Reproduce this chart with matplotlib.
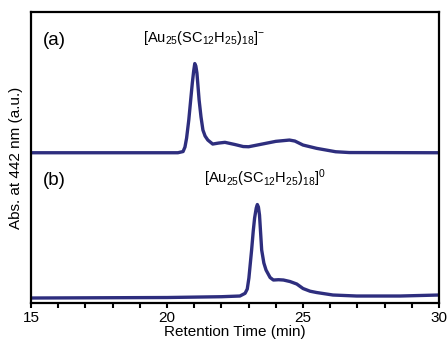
import matplotlib
matplotlib.use("Agg")
import matplotlib.pyplot as plt

plt.rcParams['font.family'] = ['Liberation Sans', 'DejaVu Sans']
plt.rcParams['mathtext.fontset'] = 'custom'
plt.rcParams['mathtext.rm'] = 'Liberation Sans'
plt.rcParams['mathtext.it'] = 'Liberation Sans:italic'
plt.rcParams['mathtext.bf'] = 'Liberation Sans:bold'

# Trace (a): [Au25(SC12H25)18]-
time_a = [15.0, 20.4, 20.59, 20.66, 20.72, 20.8, 20.87, 20.93, 20.98, 21.02, 21.06, 21.10,
          21.18, 21.25, 21.32, 21.4, 21.5, 21.68, 21.9, 22.13, 22.5, 22.8, 23.0, 23.5,
          24.0, 24.5, 24.7, 25.0, 25.5, 26.2, 26.7, 30.0]
abs_a = [150.3, 150.3, 151.5, 156, 165, 183, 203, 220, 232, 239.5, 237, 230,
         203, 186, 173, 167, 163, 159, 160, 160.7, 158.5, 156.5, 156.3, 159,
         161.7, 163, 162, 158, 154.7, 151.3, 150.5, 150.3]

# Trace (b): [Au25(SC12H25)18]0
time_b = [15.0, 18.0, 20.0, 22.0, 22.68, 22.87, 22.95, 23.01, 23.11, 23.17, 23.22, 23.28,
          23.32, 23.36, 23.40, 23.48, 23.56, 23.64, 23.79, 23.91, 24.1, 24.28, 24.52, 24.77,
          25.0, 25.26, 25.5, 26.1, 26.97, 28.57, 30.0]
abs_b = [5.0, 5.3, 5.5, 6.3, 7.0, 9.7, 14, 25, 53, 72, 85, 95,
         98.5, 96, 88, 53, 40, 33, 25.5, 23, 23.3, 23, 21.5, 19,
         14.5, 11.8, 10.5, 8, 7, 7, 8]

xticks = [15, 20, 25, 30]
label_a = r'[Au$_{25}$(SC$_{12}$H$_{25}$)$_{18}$]$^{-}$'
label_b = r'[Au$_{25}$(SC$_{12}$H$_{25}$)$_{18}$]$^{0}$'

line_color = '#2e2e7e'

fig = plt.figure(figsize=(4.48, 3.45), dpi=100)
ax = fig.add_axes([0.0692, 0.1217, 0.9108, 0.8433])

ax.plot(time_a, abs_a, color=line_color, lw=2.4, solid_joinstyle='round', solid_capstyle='round')
ax.plot(time_b, abs_b, color=line_color, lw=2.4, solid_joinstyle='round', solid_capstyle='round')

ax.set_xlim(15, 30)
ax.set_ylim(0, 291)
ax.set_xticks(xticks)
ax.set_xticks(range(15, 31), minor=True)
ax.set_yticks([])
ax.tick_params(axis='x', which='both', direction='out', length=3.5, width=1.5, labelsize=11, pad=2)
for s in ax.spines.values():
    s.set_linewidth(1.6)

ax.set_xlabel('Retention Time (min)', fontsize=11, labelpad=0)
ax.set_ylabel('Abs. at 442 nm (a.u.)', fontsize=11, labelpad=6)

ax.text(15.45, 263, '(a)', fontsize=13.5, va='center', ha='left')
ax.text(21.35, 265, label_a, fontsize=10.5, va='center', ha='center')
ax.text(15.45, 123, '(b)', fontsize=13.5, va='center', ha='left')
ax.text(23.6, 125, label_b, fontsize=10.5, va='center', ha='center')

fig.savefig('out.png', dpi=100)
